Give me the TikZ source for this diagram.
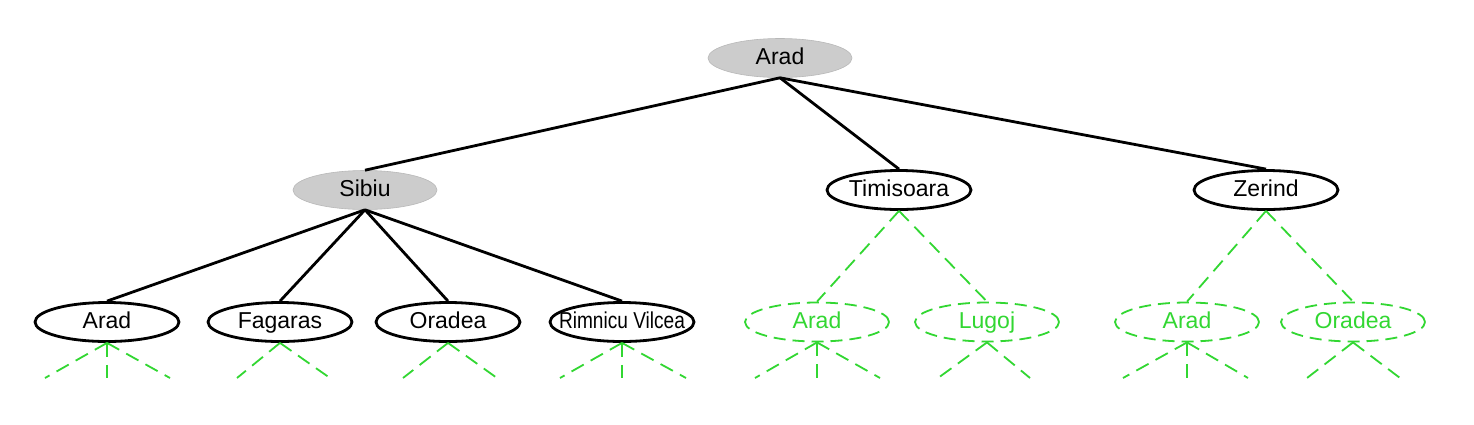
\documentclass[tikz,border=0pt]{standalone}
\usepackage{fontspec}
\setmainfont{Liberation Sans}
\usetikzlibrary{shapes.geometric}
\definecolor{grn}{RGB}{50,215,50}
\definecolor{nodegray}{RGB}{204,204,204}
\newcommand{\lbl}[1]{\makebox[0pt]{#1}}
\tikzset{
  city/.style={ellipse, inner sep=0pt, minimum width=144pt, minimum height=39pt, text height=16pt, text depth=4pt, font=\fontsize{23}{25}\selectfont},
  expanded/.style={city, fill=nodegray, draw=nodegray!90!black, line width=0.6pt},
  frontier/.style={city, draw=black, line width=2.8pt},
  unseen/.style={city, draw=grn, line width=1.8pt, dash pattern=on 12pt off 7pt, text=grn},
  tree/.style={draw=black, line width=2.8pt},
  future/.style={draw=grn, line width=1.8pt, dash pattern=on 14pt off 8pt},
}
\begin{document}
\begin{tikzpicture}[x=1pt, y=-1pt]
\useasboundingbox[fill=white] (0,0) rectangle (1474,424);
% nodes
\node[expanded] (root) at (780,58) {\lbl{Arad}};
\node[expanded] (sib) at (365,190) {\lbl{Sibiu}};
\node[frontier] (tim) at (899,190) {\lbl{Timisoara}};
\node[frontier] (zer) at (1266,190) {\lbl{Zerind}};
\node[frontier] (a1) at (107,322) {\lbl{Arad}};
\node[frontier] (fag) at (280,322) {\lbl{Fagaras}};
\node[frontier] (ora) at (448,322) {\lbl{Oradea}};
\node[frontier] (rim) at (622,322) {\lbl{\scalebox{0.83}[1]{Rimnicu Vilcea}}};
\node[unseen] (a2) at (817,322) {\lbl{Arad}};
\node[unseen] (lug) at (987,322) {\lbl{Lugoj}};
\node[unseen] (a3) at (1187,322) {\lbl{Arad}};
\node[unseen] (ora2) at (1353,322) {\lbl{Oradea}};
% dangling ends
\coordinate (a1l) at (45,378);  \coordinate (a1m) at (107,378); \coordinate (a1r) at (170,378);
\coordinate (fagl) at (237,378); \coordinate (fagr) at (330,378);
\coordinate (oral) at (403,378); \coordinate (orar) at (497,378);
\coordinate (riml) at (560,378); \coordinate (rimm) at (622,378); \coordinate (rimr) at (686,378);
\coordinate (a2l) at (755,378); \coordinate (a2m) at (817,378); \coordinate (a2r) at (880,378);
\coordinate (lugl) at (938,378); \coordinate (lugr) at (1030,378);
\coordinate (a3l) at (1123,378); \coordinate (a3m) at (1187,378); \coordinate (a3r) at (1248,378);
\coordinate (or2l) at (1307,378); \coordinate (or2r) at (1400,378);
% tree edges
\draw[tree] (root.south) -- (sib.north);
\draw[tree] (root.south) -- (tim.north);
\draw[tree] (root.south) -- (zer.north);
\draw[tree] (sib.south) -- (a1.north);
\draw[tree] (sib.south) -- (fag.north);
\draw[tree] (sib.south) -- (ora.north);
\draw[tree] (sib.south) -- (rim.north);
% future edges
\draw[future] (tim.south) -- (a2.north);
\draw[future] (tim.south) -- (lug.north);
\draw[future] (zer.south) -- (a3.north);
\draw[future] (zer.south) -- (ora2.north);
\foreach \n/\e in {a1/a1l,a1/a1m,a1/a1r,fag/fagl,fag/fagr,ora/oral,ora/orar,rim/riml,rim/rimm,rim/rimr,a2/a2l,a2/a2m,a2/a2r,lug/lugl,lug/lugr,a3/a3l,a3/a3m,a3/a3r,ora2/or2l,ora2/or2r}
  \draw[future] (\n.south) -- (\e);
\end{tikzpicture}
\end{document}
